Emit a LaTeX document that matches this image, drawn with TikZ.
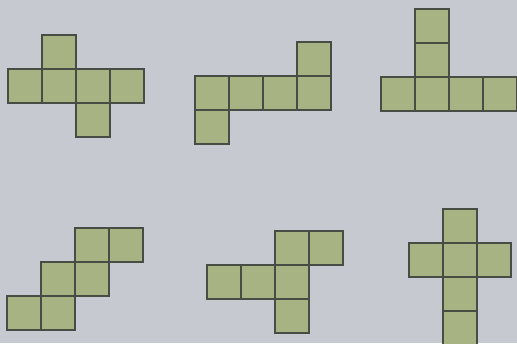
\documentclass[tikz,border=0pt]{standalone}
\usepackage{tikz}

\definecolor{paper}{RGB}{198,201,208}
\definecolor{facefill}{RGB}{168,179,132}
\definecolor{edge}{RGB}{72,76,68}

\tikzset{
  face/.style={fill=facefill,draw=edge,line width=1.1pt},
}

\begin{document}
\begin{tikzpicture}[x=1pt,y=-1pt]
  \fill[paper] (0,0) rectangle (517,343);
  \useasboundingbox (0,0) rectangle (517,343);
  \clip (0,0) rectangle (517,343);
  % top row of nets
  \begin{scope}[shift={(8,35)}]
    \foreach \c/\r in {1/0,0/1,1/1,2/1,3/1,2/2}
      \draw[face] (\c*34,\r*34) rectangle ++(34,34);
  \end{scope}
  \begin{scope}[shift={(195,42)}]
    \foreach \c/\r in {3/0,0/1,1/1,2/1,3/1,0/2}
      \draw[face] (\c*34,\r*34) rectangle ++(34,34);
  \end{scope}
  \begin{scope}[shift={(381,9)}]
    \foreach \c/\r in {1/0,1/1,0/2,1/2,2/2,3/2}
      \draw[face] (\c*34,\r*34) rectangle ++(34,34);
  \end{scope}
  % bottom row of nets
  \begin{scope}[shift={(7,228)}]
    \foreach \c/\r in {2/0,3/0,1/1,2/1,0/2,1/2}
      \draw[face] (\c*34,\r*34) rectangle ++(34,34);
  \end{scope}
  \begin{scope}[shift={(207,231)}]
    \foreach \c/\r in {2/0,3/0,0/1,1/1,2/1,2/2}
      \draw[face] (\c*34,\r*34) rectangle ++(34,34);
  \end{scope}
  \begin{scope}[shift={(409,209)}]
    \foreach \c/\r in {1/0,0/1,1/1,2/1,1/2,1/3}
      \draw[face] (\c*34,\r*34) rectangle ++(34,34);
  \end{scope}
\end{tikzpicture}
\end{document}
